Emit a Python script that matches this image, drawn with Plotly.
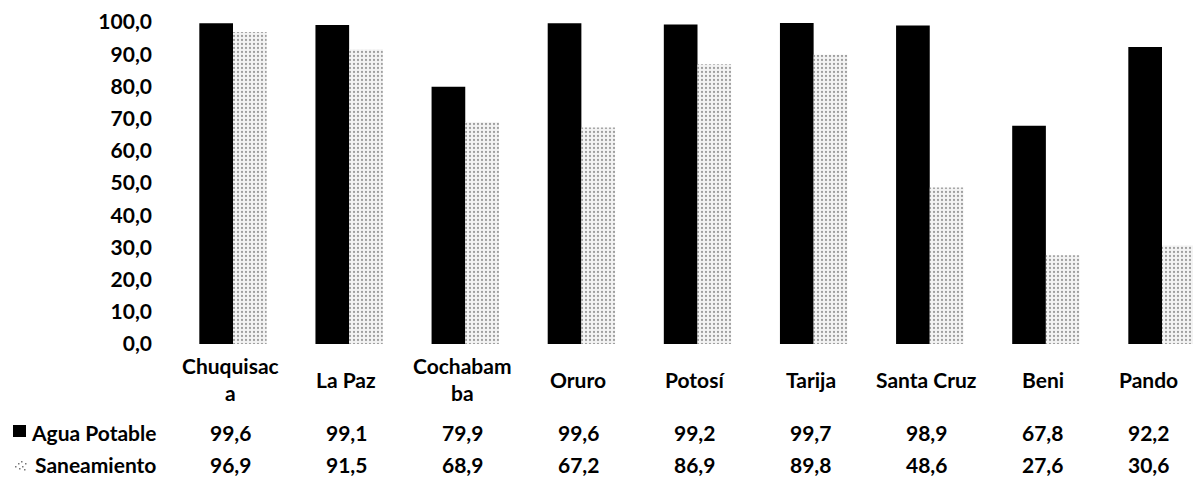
import plotly.graph_objects as go

categories = ["Chuquisaca", "La Paz", "Cochabamba", "Oruro", "Potosí", "Tarija", "Santa Cruz", "Beni", "Pando"]
category_labels = ["Chuquisac<br>a", "La Paz", "Cochabam<br>ba", "Oruro", "Potosí", "Tarija", "Santa Cruz", "Beni", "Pando"]
agua_potable = [99.6, 99.1, 79.9, 99.6, 99.2, 99.7, 98.9, 67.8, 92.2]
saneamiento = [96.9, 91.5, 68.9, 67.2, 86.9, 89.8, 48.6, 27.6, 30.6]
series_names = ["Agua Potable", "Saneamiento"]
y_ticks = [0, 10, 20, 30, 40, 50, 60, 70, 80, 90, 100]

W, H = 1193, 479
FONT = dict(family="Lato, Calibri, sans-serif", size=21, color="black", weight="bold")

xpos = list(range(len(categories)))

fig = go.Figure()
fig.add_trace(go.Bar(
    x=xpos, y=agua_potable, name=series_names[0],
    marker=dict(color="black", line=dict(width=0)),
))
fig.add_trace(go.Bar(
    x=xpos, y=saneamiento, name=series_names[1],
    marker=dict(color="white", line=dict(width=0),
                pattern=dict(shape=".", fgcolor="#4a4a4a", bgcolor="#f4f4f4", size=4, solidity=0.25)),
))

def fmt(v):
    return f"{v:.1f}".replace(".", ",")

def ypx(py):
    return 1 - py / H

annotations = []
for i, lab in enumerate(category_labels):
    shift = -3 if i < len(categories) - 1 else -14
    annotations.append(dict(x=i, y=ypx(379), xref="x", yref="paper", text=lab, showarrow=False,
                            xanchor="center", yanchor="middle", xshift=shift, font=FONT))
    annotations.append(dict(x=i, y=ypx(432), xref="x", yref="paper", text=fmt(agua_potable[i]), showarrow=False,
                            xanchor="center", yanchor="middle", xshift=shift, font=FONT))
    annotations.append(dict(x=i, y=ypx(464), xref="x", yref="paper", text=fmt(saneamiento[i]), showarrow=False,
                            xanchor="center", yanchor="middle", xshift=shift, font=FONT))

annotations.append(dict(x=158 / W, y=ypx(432), xref="paper", yref="paper", text=series_names[0],
                        showarrow=False, xanchor="right", yanchor="middle", font=FONT))
annotations.append(dict(x=158 / W, y=ypx(464), xref="paper", yref="paper", text=series_names[1],
                        showarrow=False, xanchor="right", yanchor="middle", font=FONT))

shapes = [
    dict(type="rect", xref="paper", yref="paper", x0=13 / W, x1=26 / W, y0=ypx(437), y1=ypx(425),
         fillcolor="black", line=dict(width=0)),
]
# legend key for Saneamiento (stipple)
for (dx, dy) in [(15, 466), (18, 463), (21, 461), (22, 466), (25, 463), (19, 468), (24, 469)]:
    shapes.append(dict(type="rect", xref="paper", yref="paper", x0=dx / W, x1=(dx + 1.5) / W,
                       y0=ypx(dy + 1.5), y1=ypx(dy), fillcolor="#777", line=dict(width=0)))

x_left_px = 160
scale = (1162 - 233) / 8.0
rmin = -(233 - x_left_px) / scale
rmax = rmin + (W - x_left_px) / scale

fig.update_layout(
    width=W, height=H,
    margin=dict(l=0, r=0, t=0, b=0, autoexpand=False),
    paper_bgcolor="white", plot_bgcolor="white",
    barmode="group", bargap=0.42, bargroupgap=0.0,
    showlegend=False,
    separators=", ",
    font=FONT,
    xaxis=dict(domain=[x_left_px / W, 1], range=[rmin, rmax], showticklabels=False, automargin=False,
               showgrid=False, zeroline=False, showline=False, ticks=""),
    yaxis=dict(domain=[ypx(344), ypx(22)], range=[0, 100], tickvals=y_ticks, automargin=False,
               tickformat=".1f", showgrid=False, zeroline=False, showline=False, ticks="",
               ticklabelstandoff=7, tickfont=FONT),
    annotations=annotations,
    shapes=shapes,
)

fig.write_html("out.html", config={"displayModeBar": False},
               post_script="document.body.style.margin='0';document.body.style.padding='0';")
